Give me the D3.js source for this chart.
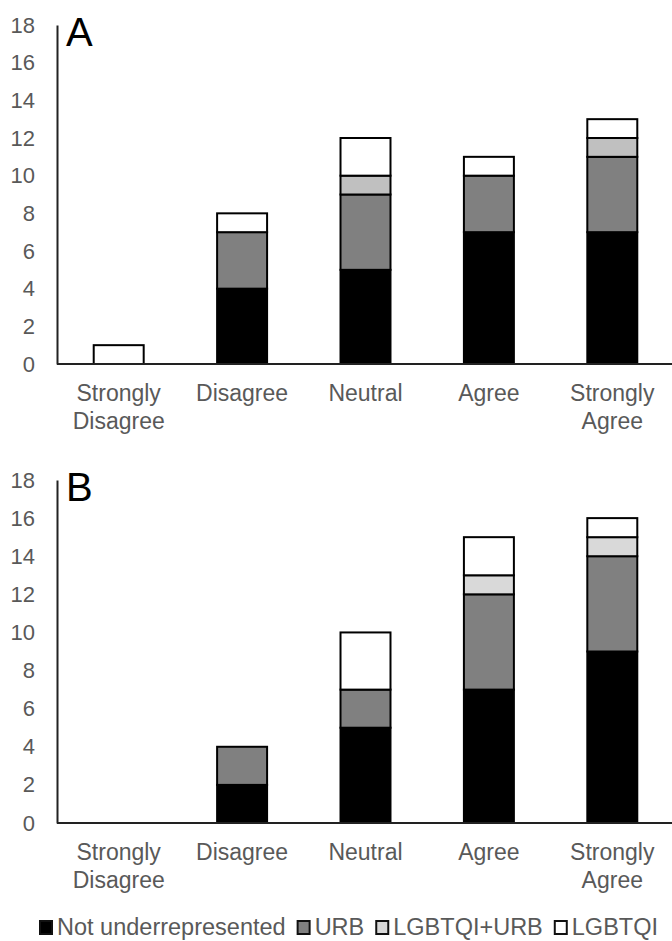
<!DOCTYPE html>
<html><head><meta charset="utf-8">
<script src="https://cdn.jsdelivr.net/npm/d3@7"></script>
<style>body{margin:0;background:#fff}svg{display:block}text{font-family:'Liberation Sans'}</style>
</head><body>
<script>
const categories = ["Strongly Disagree","Disagree","Neutral","Agree","Strongly Agree"];
const seriesNames = ["Not underrepresented","URB","LGBTQI+URB","LGBTQI"];
const yTicks = [0,2,4,6,8,10,12,14,16,18];
// Panel A values per series (in category order)
const aNotUnder = [0,4,5,7,7];
const aURB      = [0,3,4,3,4];
const aLGBURB   = [0,0,1,0,1];
const aLGBTQI   = [1,1,2,1,1];
// Panel B values
const bNotUnder = [0,2,5,7,9];
const bURB      = [0,2,2,5,5];
const bLGBURB   = [0,0,0,1,1];
const bLGBTQI   = [0,0,3,2,1];

const W = 672, H = 941;
const FONT = "'Liberation Sans'";
const svg = d3.select("body").append("svg").attr("width", W).attr("height", H);

function panel(label, vals, top, bottom, lightColor) {
  const colors = ["#000000","#808080",lightColor,"#ffffff"];
  const rows = categories.map((c,i)=>{
    const r = {cat:c};
    seriesNames.forEach((s,k)=>r[s]=vals[k][i]);
    return r;
  });
  const stack = d3.stack().keys(seriesNames)(rows);
  const x = d3.scaleBand().domain(categories).range([57,674]).paddingInner(0.595).paddingOuter(0.2975);
  const y = d3.scaleLinear().domain([0,18]).range([bottom, top]);
  const g = svg.append("g");
  stack.forEach((layer,k)=>{
    g.append("g").selectAll("rect").data(layer.filter(d=>d[1]-d[0]>0)).join("rect")
      .attr("x", d=>x(d.data.cat))
      .attr("width", x.bandwidth())
      .attr("y", d=>y(d[1]))
      .attr("height", d=>y(d[0])-y(d[1]))
      .attr("fill", colors[k])
      .attr("stroke", "#000")
      .attr("stroke-width", 2);
  });
  const ya = d3.axisLeft(y).tickValues(yTicks).tickSize(0).tickPadding(22);
  const yg = g.append("g").attr("transform","translate(57,0)").call(ya);
  yg.attr("font-family", FONT);
  yg.select(".domain").attr("stroke","#222").attr("stroke-width",2);
  yg.selectAll("text").attr("fill","#595959").style("font-size","22px").style("font-family",FONT);
  const xa = d3.axisBottom(x).tickSize(0).tickFormat("");
  const xg = g.append("g").attr("transform",`translate(0,${bottom})`).call(xa);
  xg.select(".domain").attr("d",`M57,0H672`).attr("stroke","#222").attr("stroke-width",2);
  categories.forEach(c=>{
    const words = c.split(" ");
    const t = g.append("text").attr("text-anchor","middle").attr("fill","#595959")
      .style("font-size","23px").style("font-family",FONT);
    words.forEach((w,i)=>{
      t.append("tspan").attr("x", x(c)+x.bandwidth()/2).attr("y", bottom+37+i*28).text(w);
    });
  });
  g.append("text").attr("x",66).attr("y",top+21).style("font-size","40px").style("font-family",FONT).attr("fill","#000").text(label);
}

panel("A",[aNotUnder,aURB,aLGBURB,aLGBTQI],25,364,"#c0c0c0");
panel("B",[bNotUnder,bURB,bLGBURB,bLGBTQI],480,823,"#d9d9d9");

const legColors = ["#000000","#808080","#d9d9d9","#ffffff"];
let lx = 39;
const lg = svg.append("g");
seriesNames.forEach((s,k)=>{
  lg.append("rect").attr("x",lx+1).attr("y",921).attr("width",12).attr("height",13)
    .attr("fill",legColors[k]).attr("stroke","#111").attr("stroke-width",2);
  const t = lg.append("text").attr("x",lx+18).attr("y",935).attr("fill","#595959")
    .style("font-size","23.5px").style("font-family",FONT).text(s);
  lx += 18 + t.node().getComputedTextLength() + 11;
});
</script>
</body></html>
